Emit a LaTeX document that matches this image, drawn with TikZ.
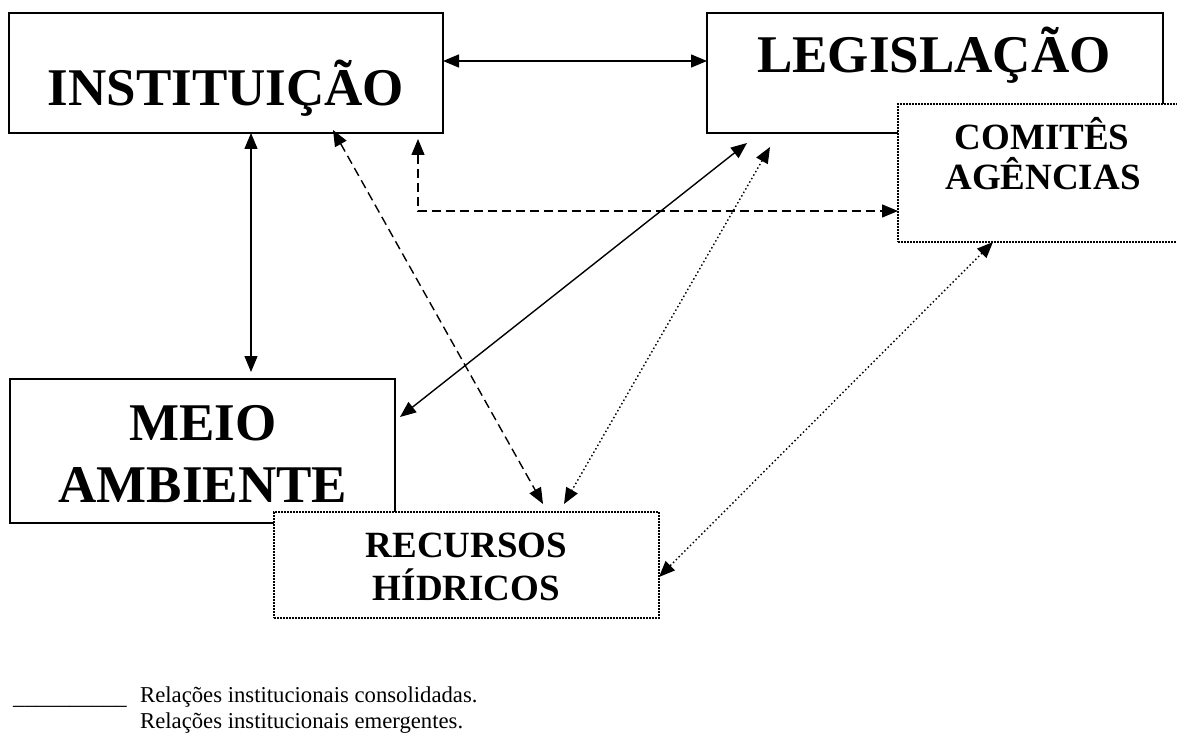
\documentclass[tikz,border=0pt]{standalone}
\usepackage{fontspec}
\setmainfont{Liberation Serif}
\usetikzlibrary{arrows.meta,calc}
\begin{document}
\begin{tikzpicture}[x=1pt,y=-1pt,
  solidbox/.style={draw, line width=2pt, rectangle, inner sep=0pt, outer sep=0pt, fill=white},
  dotbox/.style={draw, line width=1.6pt, dash pattern=on 1.6pt off 1.4pt, rectangle, inner sep=0pt, outer sep=0pt, fill=white},
  bigtext/.style={font=\fontsize{53}{60}\selectfont\bfseries, inner sep=0pt, anchor=base},
  midtext/.style={font=\fontsize{37}{44}\selectfont\bfseries, inner sep=0pt, anchor=base},
  legtext/.style={font=\fontsize{22.7}{26}\selectfont, inner sep=0pt, anchor=base west},
  rel/.style={line width=1.4pt, {Triangle[length=16pt,width=13pt]}-{Triangle[length=16pt,width=13pt]}},
  consolidated/.style={rel},
  emergdash/.style={rel, dash pattern=on 9pt off 5pt},
  emergdot/.style={rel, dash pattern=on 1.5pt off 2.5pt},
]
\useasboundingbox (0,0) rectangle (1177,735);
\fill[white] (0,0) rectangle (1177,735);

% boxes
\node[solidbox, minimum width=434pt, minimum height=120pt] (inst) at (226,73) {};
\node[solidbox, minimum width=456pt, minimum height=120pt] (leg) at (935,73) {};
\node[solidbox, minimum width=385pt, minimum height=144pt] (meio) at (202.5,451) {};
\node[dotbox, minimum width=290pt, minimum height=138pt] (com) at (1043,173) {};
\node[dotbox, minimum width=385pt, minimum height=106pt] (rec) at (466.5,565) {};

% texts
\node[bigtext] (instT) at (226,106) {INSTITUIÇÃO};
\node[bigtext] (legT) at (934,73) {LEGISLAÇÃO};
\node[bigtext] (meioT1) at (203,440) {MEIO};
\node[bigtext] (meioT2) at (203,502) {AMBIENTE};
\node[midtext] (comT1) at (1042,150) {COMITÊS};
\node[midtext] (comT2) at (1043,190) {AGÊNCIAS};
\node[midtext] (recT1) at (466.5,557) {RECURSOS};
\node[midtext] (recT2) at (466.5,600) {HÍDRICOS};

% legend
\node[legtext] (legU) at (13,704) {\_\_\_\_\_\_\_\_\_\_};
\node[legtext] (leg1) at (140,702) {Relações institucionais consolidadas.};
\node[legtext] (leg2) at (140,728) {Relações institucionais emergentes.};

% consolidated relations
\draw[consolidated] ([yshift=12pt]inst.east) -- ([yshift=12pt]leg.west);
\draw[consolidated] ([xshift=25pt]inst.south) -- ([xshift=48.5pt,yshift=7pt]meio.north);
\draw[consolidated] ([xshift=-188pt,yshift=-10pt]leg.south) -- ([xshift=5pt,yshift=34pt]meio.east);

% emerging relations
\draw[emergdash] ([xshift=107pt,yshift=3pt]inst.south) -- ([xshift=76.5pt,yshift=8pt]rec.north);
\draw[emergdash] ([xshift=192pt,yshift=-6pt]inst.south) |- ([yshift=-38pt]com.west);
\draw[emergdot] ([xshift=-165pt,yshift=-14pt]leg.south) -- ([xshift=97.5pt,yshift=8pt]rec.north);
\draw[emergdot] ([xshift=-50pt]com.south) -- ([yshift=-12pt]rec.east);
\end{tikzpicture}
\end{document}
